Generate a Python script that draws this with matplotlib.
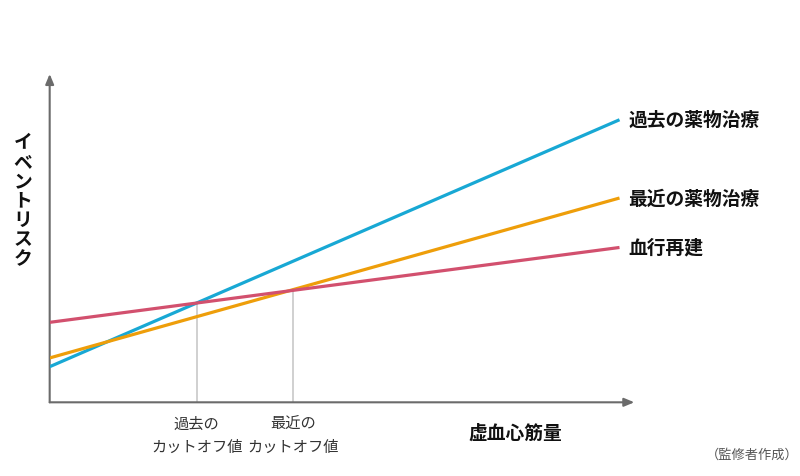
import numpy as np
import matplotlib
matplotlib.use("Agg")
import matplotlib.pyplot as plt
import matplotlib.transforms as mtransforms

plt.rcParams['font.family'] = ['Noto Sans CJK JP', 'DejaVu Sans']

#data (arbitrary units)
x_pts = [0, 100]
series_names = ["過去の薬物治療", "最近の薬物治療", "血行再建"]
past_drug = [12.6, 100.0]
recent_drug = [15.7, 72.3]
revasc = [28.3, 54.8]
series_colors = ["#18a8d4", "#ee9e0a", "#d2506e"]

cutoff_x = [25.8, 42.7]
cutoff_labels = ["過去の\nカットオフ値", "最近の\nカットオフ値"]

y_label = "イベントリスク"
x_label = "虚血心筋量"
source = "（監修者作成）"

fig = plt.figure(figsize=(8, 4.77), dpi=100)
ax = fig.add_axes([0.0621, 0.1545, 0.7308, 0.6883])
ax.set_xlim(0, 102.6)
ax.set_ylim(0, 116.2)
for sp in ax.spines.values():
    sp.set_visible(False)
ax.set_xticks([])
ax.set_yticks([])

#axes with arrows
arrow = dict(arrowstyle="-|>,head_length=0.6,head_width=0.25", color="#6b6b6b", lw=1.5,
             shrinkA=0, shrinkB=0)
ax.annotate("", xy=(1, 0), xytext=(0, 0), xycoords="axes fraction", arrowprops=arrow)
ax.annotate("", xy=(0, 1), xytext=(0, 0), xycoords="axes fraction", arrowprops=arrow)

#cut-off lines: from x-axis up to the revascularisation line
for cx in cutoff_x:
    top = np.interp(cx, x_pts, revasc)
    ax.plot([cx, cx], [0, top], color="#c8c8c8", lw=1.2, zorder=1)

trans = mtransforms.blended_transform_factory(ax.transData, fig.transFigure)
for cx, lab in zip(cutoff_x, cutoff_labels):
    ax.text(cx, 1 - 436 / 477, lab, transform=trans, ha="center", va="center",
            fontsize=11, color="#333333", linespacing=1.5)

series = [past_drug, recent_drug, revasc]
for name, vals, c in zip(series_names, series, series_colors):
    ax.plot(x_pts, vals, color=c, lw=2.3, solid_capstyle="butt", zorder=3)
    ax.text(x_pts[-1] + 1.6, vals[-1], name, ha="left", va="center", fontsize=13.5,
            fontweight="bold", color="#111111", clip_on=False)

#labels
fig.text(23 / 800, 1 - 201 / 477, "\n".join(y_label), ha="center", va="center",
         fontsize=13.5, fontweight="bold", color="#111111", linespacing=1.03)
fig.text(515 / 800, 1 - 433 / 477, x_label, ha="center", va="center",
         fontsize=13.5, fontweight="bold", color="#111111")
fig.text(799 / 800, 1 - 455 / 477, source, ha="right", va="center",
         fontsize=9.5, color="#555555")

fig.savefig("out.png", dpi=100)
